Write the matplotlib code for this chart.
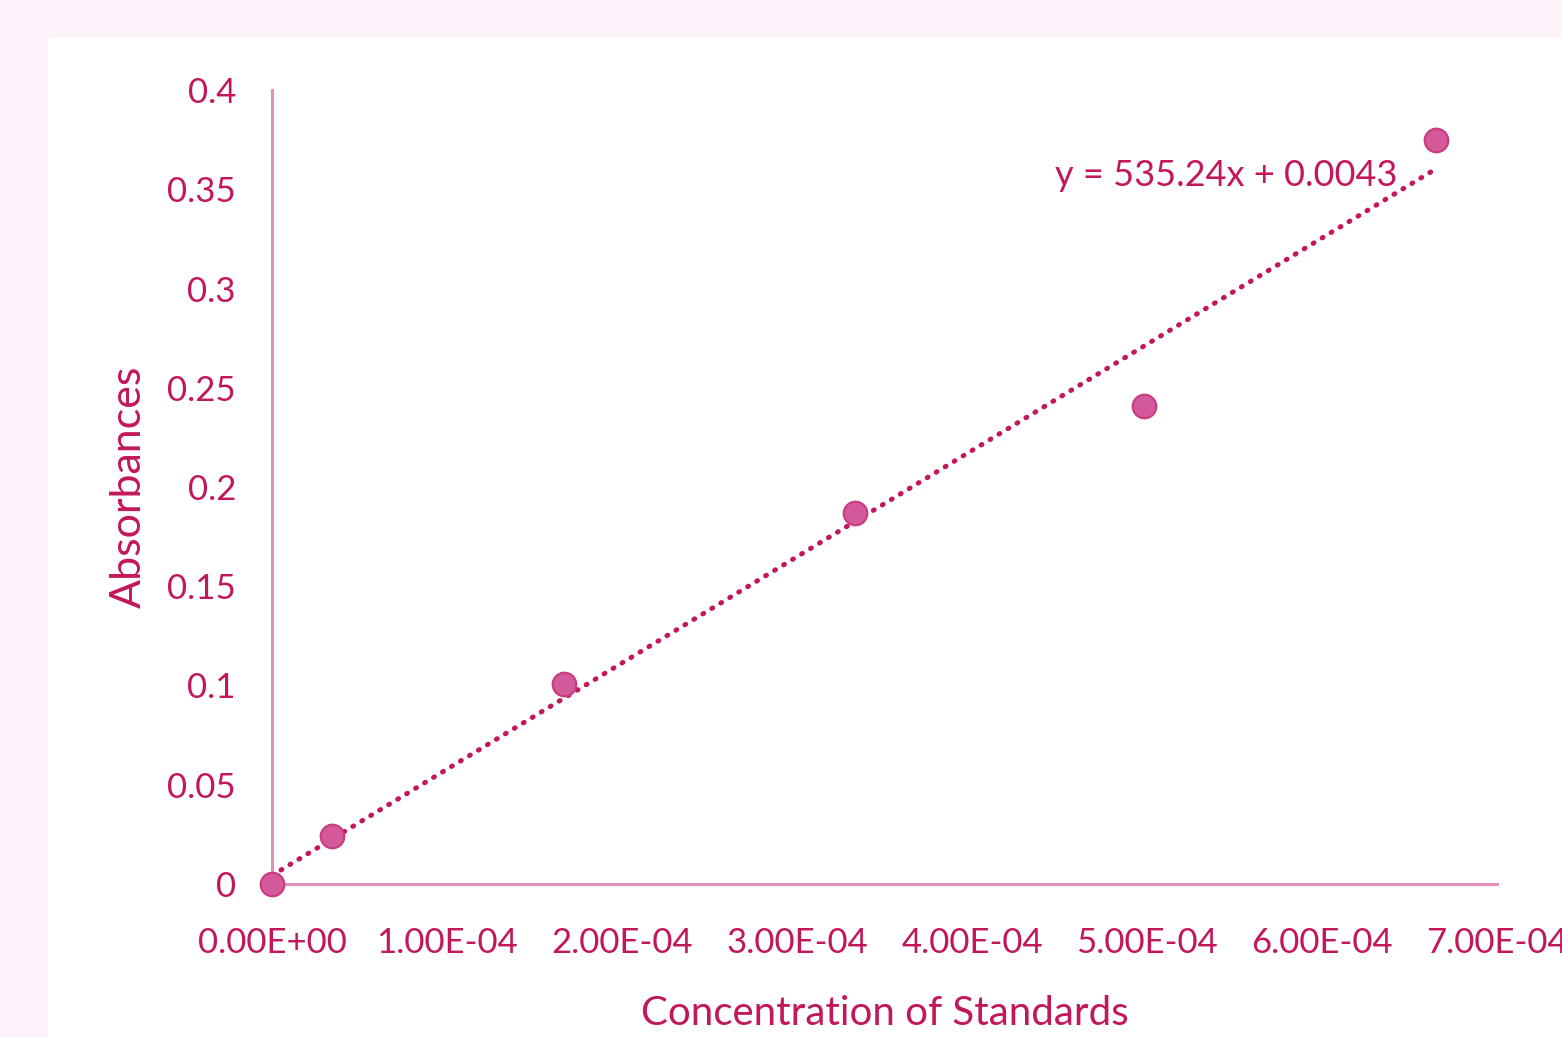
import numpy as np
import matplotlib.pyplot as plt
from matplotlib.patches import Rectangle

# data
concentration = [0.0, 3.4e-05, 1.67e-04, 3.33e-04, 4.98e-04, 6.65e-04]
absorbance = [0.0, 0.024, 0.101, 0.187, 0.241, 0.375]
slope = 535.24
intercept = 0.0043
x_ticks = [0, 1e-4, 2e-4, 3e-4, 4e-4, 5e-4, 6e-4, 7e-4]
x_tick_labels = ["0.00E+00", "1.00E-04", "2.00E-04", "3.00E-04",
                 "4.00E-04", "5.00E-04", "6.00E-04", "7.00E-04"]
y_ticks = [0, 0.05, 0.1, 0.15, 0.2, 0.25, 0.3, 0.35, 0.4]
y_tick_labels = ["0", "0.05", "0.1", "0.15", "0.2", "0.25", "0.3", "0.35", "0.4"]

text_color = "#c2185b"
axis_color = "#e48fb8"
marker_color = "#d4599a"

plt.rcParams["font.family"] = ["Lato", "DejaVu Sans"]

fig = plt.figure(figsize=(15.62, 10.38), dpi=100)
fig.patch.set_facecolor("#fdf2fa")
fig.patches.append(Rectangle((48 / 1562, 0), 1, 1 - 38 / 1038,
                             transform=fig.transFigure, facecolor="white",
                             edgecolor="none", zorder=-10))

ax = fig.add_axes([272 / 1562, 1 - 884 / 1038, (1497 - 272) / 1562, (884 - 90) / 1038])
ax.set_facecolor("none")

# trendline
xs = np.array([0, max(concentration)])
ax.plot(xs, slope * xs + intercept, color=text_color, linewidth=3.6,
        linestyle=(0, (0.2, 1.9)), dash_capstyle="round", zorder=2)

ax.plot(concentration, absorbance, "o", markersize=17, color=marker_color,
        markeredgecolor="#c93a80", markeredgewidth=1.5, zorder=3, clip_on=False)

ax.text(6.43e-4, 0.357, f"y = {slope}x + {intercept}", ha="right", va="center",
        fontsize=26, color=text_color)

ax.set_xlim(0, 7e-4)
ax.set_ylim(0, 0.4)
ax.set_xticks(x_ticks)
ax.set_xticklabels(x_tick_labels)
ax.set_yticks(y_ticks)
ax.set_yticklabels(y_tick_labels)
ax.tick_params(length=0, labelsize=25, labelcolor=text_color)
ax.tick_params(axis="x", pad=31)
ax.tick_params(axis="y", pad=26)

for side in ["top", "right"]:
    ax.spines[side].set_visible(False)
for side in ["left", "bottom"]:
    ax.spines[side].set_color(axis_color)
    ax.spines[side].set_linewidth(2.2)

ax.set_xlabel("Concentration of Standards", fontsize=29, color=text_color, labelpad=26)
ax.set_ylabel("Absorbances", fontsize=31, color=text_color, labelpad=14)

plt.savefig("out.png", dpi=100)
